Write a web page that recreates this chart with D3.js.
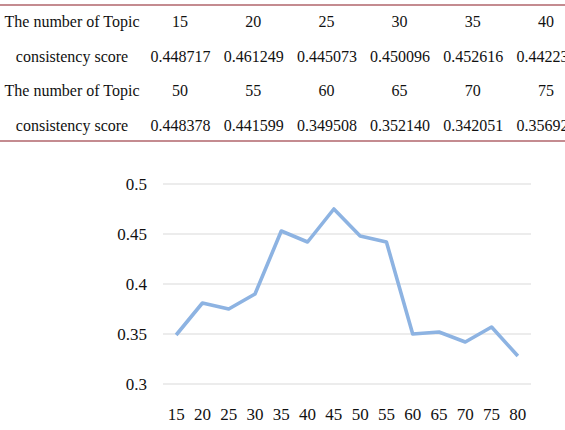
<!DOCTYPE html>
<html>
<head>
<meta charset="utf-8">
<script src="https://cdn.jsdelivr.net/npm/d3@7"></script>
<style>
  html, body { margin: 0; padding: 0; background: #fff; overflow: hidden; }
  svg { display: block; }
  text { font-family: "Liberation Serif", "Times New Roman", serif; fill: #111; }
</style>
</head>
<body>
<svg id="chart" width="565" height="430"></svg>
<script>
// table contents
var rowLabels = ["The number of Topic", "consistency score", "The number of Topic", "consistency score"];
var topicsA = ["15", "20", "25", "30", "35", "40"];
var scoresA = ["0.448717", "0.461249", "0.445073", "0.450096", "0.452616", "0.44223"];
var topicsB = ["50", "55", "60", "65", "70", "75"];
var scoresB = ["0.448378", "0.441599", "0.349508", "0.352140", "0.342051", "0.35692"];

// line chart data
var topics = ["15", "20", "25", "30", "35", "40", "45", "50", "55", "60", "65", "70", "75", "80"];
var scores = [0.349, 0.381, 0.375, 0.390, 0.453, 0.442, 0.475, 0.448, 0.442, 0.350, 0.352, 0.342, 0.357, 0.328];
var yTicks = [0.3, 0.35, 0.4, 0.45, 0.5];

var svg = d3.select("#chart");

// ---- table ----
var rows = [topicsA, scoresA, topicsB, scoresB];
var rowY = d3.scalePoint().domain(d3.range(4)).range([27, 130.5]);
var colX = d3.scalePoint().domain(d3.range(6)).range([180, 546]);

svg.append("line")
  .attr("x1", 0).attr("x2", 565).attr("y1", 5).attr("y2", 5)
  .attr("stroke", "#b0646b").attr("stroke-width", 1.6);
svg.append("line")
  .attr("x1", 0).attr("x2", 565).attr("y1", 141).attr("y2", 141)
  .attr("stroke", "#b0646b").attr("stroke-width", 1.6);

var table = svg.append("g").style("font-size", "16px");
table.selectAll("text.rl")
  .data(rowLabels)
  .enter().append("text")
  .attr("class", "rl")
  .attr("x", 72)
  .attr("y", function(d, i) { return rowY(i); })
  .attr("text-anchor", "middle")
  .text(function(d) { return d; });

rows.forEach(function(r, ri) {
  var isScore = ri % 2 === 1;
  table.selectAll("text.c" + ri)
    .data(r)
    .enter().append("text")
    .attr("class", "c" + ri)
    .attr("x", function(d, i) { return isScore ? colX(i) - 29.5 : colX(i); })
    .attr("y", rowY(ri))
    .attr("text-anchor", isScore ? "start" : "middle")
    .text(function(d) { return d; });
});

// ---- line chart ----
var x = d3.scaleBand().domain(topics).range([163, 531]).padding(0);
var y = d3.scaleLinear().domain([0.3, 0.5]).range([384, 184]);

var grid = svg.append("g");
grid.selectAll("line")
  .data(yTicks)
  .enter().append("line")
  .attr("x1", 163).attr("x2", 531)
  .attr("y1", function(d) { return y(d); })
  .attr("y2", function(d) { return y(d); })
  .attr("stroke", "#d9d9d9").attr("stroke-width", 1.2);

var yAxis = svg.append("g")
  .attr("transform", "translate(147,0)")
  .call(d3.axisLeft(y).tickValues(yTicks).tickSize(0).tickPadding(0)
    .tickFormat(function(d) { return d3.format("")(+d.toFixed(2)); }));
yAxis.select(".domain").remove();
yAxis.selectAll("text")
  .style("font-family", "'Liberation Serif', 'Times New Roman', serif")
  .style("font-size", "17px")
  .attr("fill", "#111");

var xAxis = svg.append("g")
  .attr("transform", "translate(0,384)")
  .call(d3.axisBottom(x).tickSize(0).tickPadding(0));
xAxis.select(".domain").remove();
xAxis.selectAll("text")
  .style("font-family", "'Liberation Serif', 'Times New Roman', serif")
  .style("font-size", "17px")
  .attr("fill", "#111")
  .attr("dy", null)
  .attr("y", 36);

var line = d3.line()
  .x(function(d, i) { return x(topics[i]) + x.bandwidth() / 2; })
  .y(function(d) { return y(d); });

svg.append("path")
  .datum(scores)
  .attr("d", line)
  .attr("fill", "none")
  .attr("stroke", "#8db3e2")
  .attr("stroke-width", 3.6)
  .attr("stroke-linejoin", "round");
</script>
</body>
</html>
